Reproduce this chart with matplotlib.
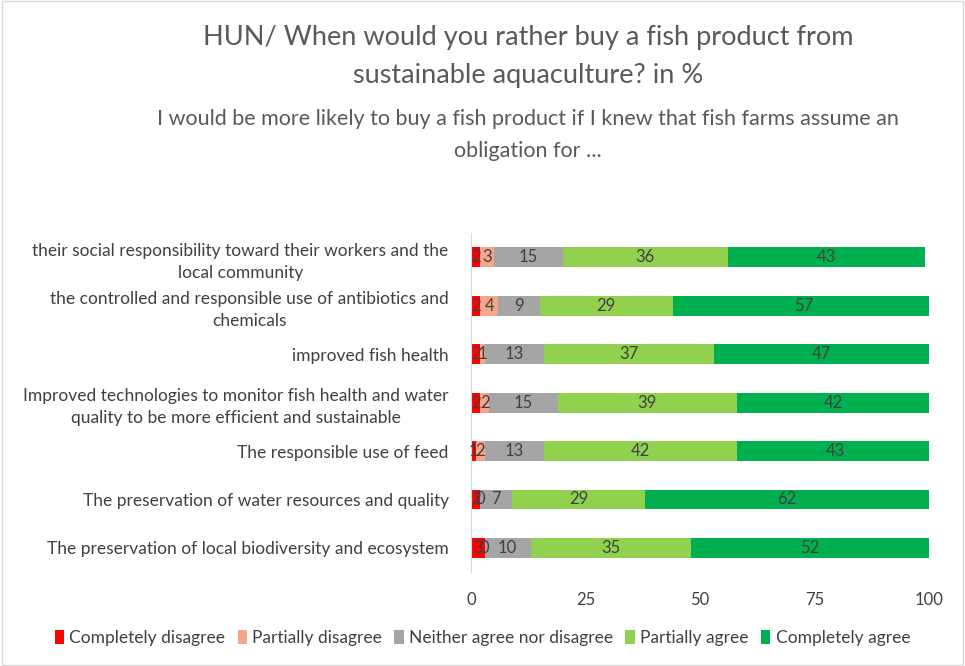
import numpy as np
import matplotlib.pyplot as plt
from matplotlib.patches import Rectangle

plt.rcParams['font.family'] = ['Lato', 'DejaVu Sans']

# statements, top to bottom
statements = [
    "their social responsibility toward their workers and the\nlocal community",
    "the controlled and responsible use of antibiotics and\nchemicals",
    "improved fish health",
    "Improved technologies to monitor fish health and water\nquality to be more efficient and sustainable",
    "The responsible use of feed",
    "The preservation of water resources and quality",
    "The preservation of local biodiversity and ecosystem",
]
categories = ["Completely disagree", "Partially disagree",
              "Neither agree nor disagree", "Partially agree", "Completely agree"]
completely_disagree = [2, 2, 2, 2, 1, 2, 3]
partially_disagree = [3, 4, 1, 2, 2, 0, 0]
neither = [15, 9, 13, 15, 13, 7, 10]
partially_agree = [36, 29, 37, 39, 42, 29, 35]
completely_agree = [43, 57, 47, 42, 43, 62, 52]
colors = ["#FF0000", "#F4A58A", "#A5A5A5", "#92D050", "#00B050"]
ticks = [0, 25, 50, 75, 100]

series = [completely_disagree, partially_disagree, neither,
          partially_agree, completely_agree]
text_col = "#404040"

fig = plt.figure(figsize=(9.65, 6.66), dpi=100)
fig.patches.append(Rectangle((0.002, 0.002), 0.996, 0.996, transform=fig.transFigure,
                             fill=False, edgecolor="#D9D9D9", linewidth=1))
ax = fig.add_axes([0.488, 0.141, 0.475, 0.509])

y = np.arange(len(statements))
left = np.zeros(len(statements))
for vals, name, c in zip(series, categories, colors):
    vals = np.array(vals, dtype=float)
    ax.barh(y, vals, left=left, height=0.41, color=c, label=name)
    for yi, l, v in zip(y, left, vals):
        ax.text(l + v / 2, yi, "{:g}".format(v), ha="center", va="center",
                fontsize=12, color=text_col)
    left += vals

ax.set_ylim(len(statements) - 0.5, -0.5)
ax.set_xlim(0, 100)
ax.set_xticks(ticks)
ax.set_yticks(y)
ax.set_yticklabels(statements, fontsize=12.5, color=text_col, ha="right",
                   multialignment="center", linespacing=1.45)
ax.tick_params(axis="both", length=0, colors=text_col)
ax.tick_params(axis="x", pad=14, labelsize=12)
ax.tick_params(axis="y", pad=16)
for s in ["top", "right", "bottom"]:
    ax.spines[s].set_visible(False)
ax.spines["left"].set_color("#D9D9D9")

fig.text(0.547, 0.943, "HUN/ When would you rather buy a fish product from",
         ha="center", va="center", fontsize=19.5, color="#595959")
fig.text(0.547, 0.886, "sustainable aquaculture? in %",
         ha="center", va="center", fontsize=19.5, color="#595959")
fig.text(0.547, 0.822, "I would be more likely to buy a fish product if I knew that fish farms assume an",
         ha="center", va="center", fontsize=15.5, color="#595959")
fig.text(0.547, 0.774, "obligation for ...",
         ha="center", va="center", fontsize=15.5, color="#595959")

fig.legend(loc="center", bbox_to_anchor=(0.5, 0.042), ncol=5, frameon=False,
           fontsize=12.5, handlelength=0.55, handleheight=0.9, handletextpad=0.3,
           columnspacing=0.7, labelcolor=text_col)

fig.savefig("out.png", dpi=100)
